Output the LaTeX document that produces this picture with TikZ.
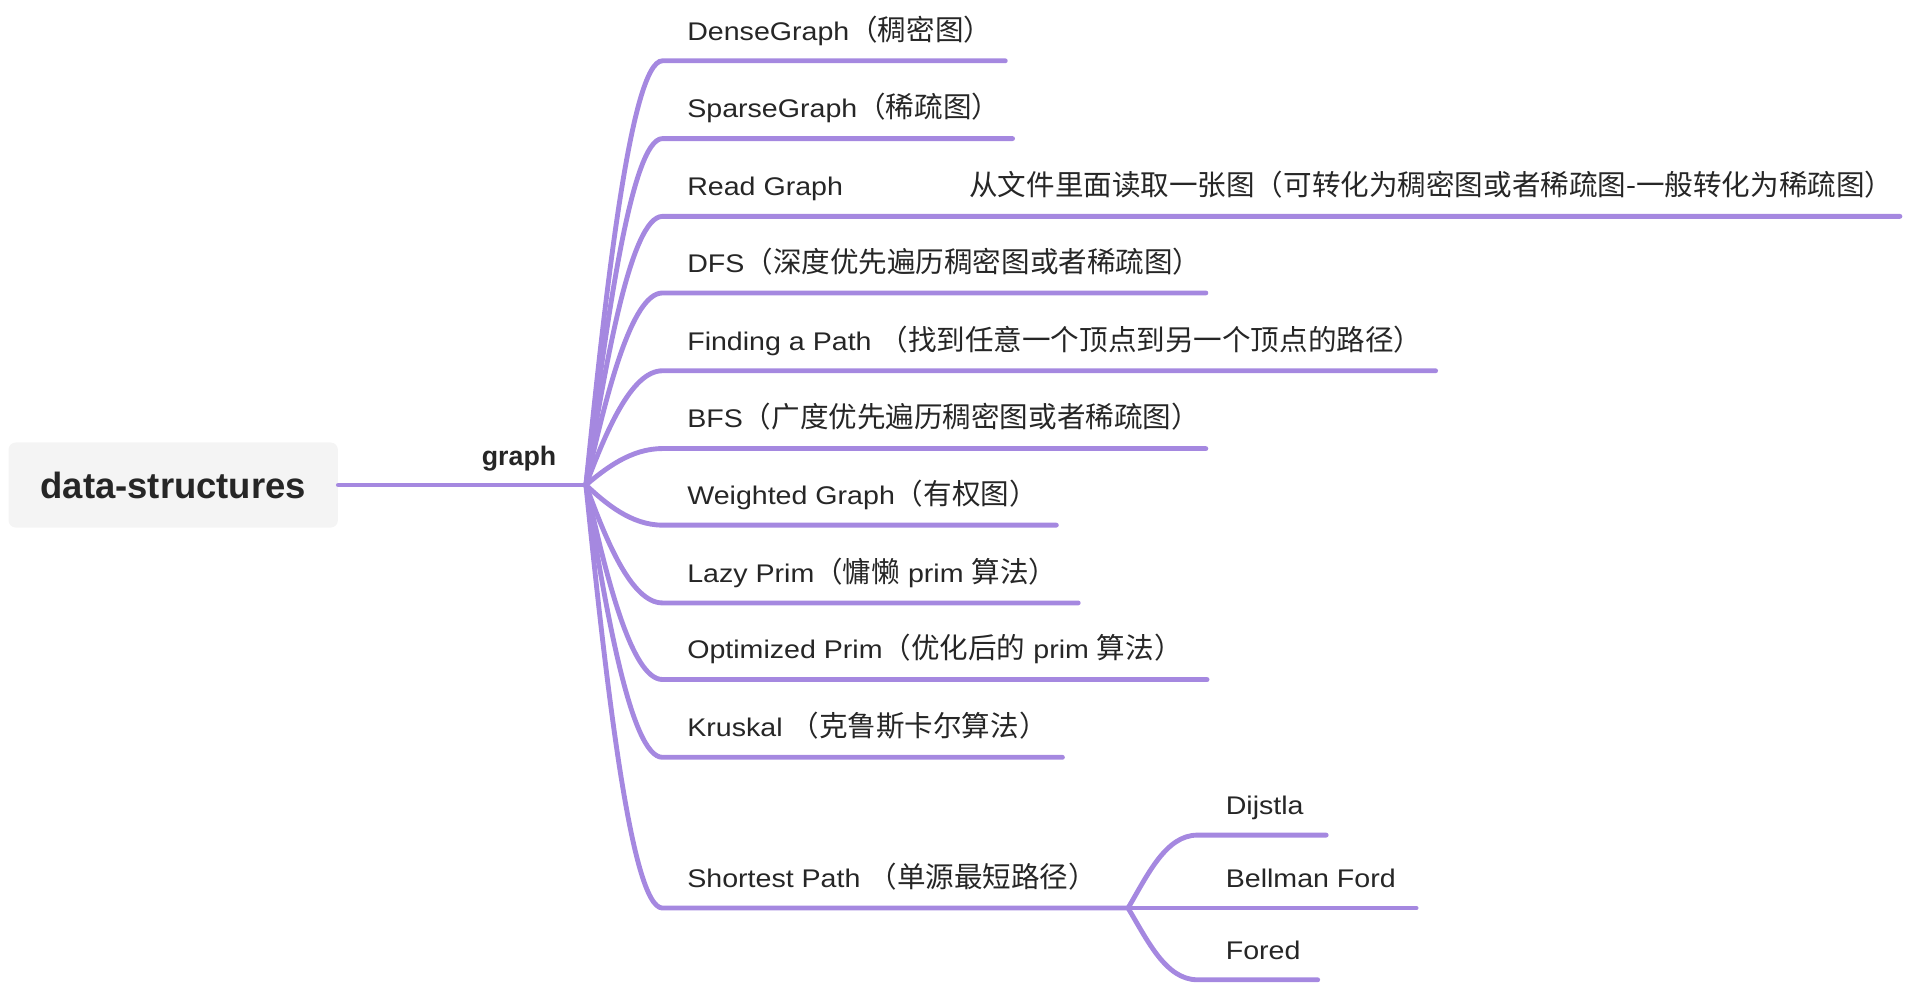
\documentclass[tikz,border=0pt]{standalone}
\usepackage{fontspec}
\setmainfont{Liberation Sans}
\newfontfamily\itemfont[FakeStretch=1.12]{Liberation Sans}
\newfontfamily\zhfont{Noto Sans CJK SC}
\newcommand\zh[1]{{\zhfont\fontsize{11.75}{14}\selectfont #1}}
\usetikzlibrary{calc}
\definecolor{branch}{RGB}{165,136,224}
\definecolor{ink}{RGB}{38,38,38}
\definecolor{rootfill}{RGB}{244,244,244}
\tikzset{
  rootbox/.style={fill=rootfill, rounded corners=3pt, minimum width=135.5pt,
    minimum height=35pt, inner sep=0pt, text=ink,
    font=\bfseries\fontsize{15}{18}\selectfont},
  topic/.style={anchor=base west, inner sep=0pt, text=ink,
    font=\itemfont\fontsize{10.5}{13}\selectfont},
  fork/.style={to path={.. controls ($(\tikztostart)!.45!(\tikztostart|-\tikztotarget)+(16,0)$)
    and ($(\tikztotarget)+(-26,0)$) .. (\tikztotarget)}},
}
\begin{document}
\begin{tikzpicture}[x=0.5pt, y=-0.5pt]
      \useasboundingbox (0,0) rectangle (1568,811);
      \node[rootbox] (root) at (142.5,399) {data-structures};
      \node[text=ink, anchor=base, font=\bfseries\fontsize{11}{13}\selectfont] (graph) at (427,383) {graph};
      \coordinate (gb) at (482,399);
      % first level
      \draw
        (565,33) node[topic] (dense) {DenseGraph\zh{（稠密图）}}
        (565,97) node[topic] (sparse) {SparseGraph\zh{（稀疏图）}}
        (565,161) node[topic] (readg) {Read Graph}
        (797,161) node[topic] (readnote) {\zh{从文件里面读取一张图（可转化为稠密图或者稀疏图-一般转化为稀疏图）}}
        (565,224) node[topic] (dfs) {DFS\zh{（深度优先遍历稠密图或者稀疏图）}}
        (565,288) node[topic] (path) {Finding a Path \zh{（找到任意一个顶点到另一个顶点的路径）}}
        (565,352) node[topic] (bfs) {BFS\zh{（广度优先遍历稠密图或者稀疏图）}}
        (565,415) node[topic] (weighted) {Weighted Graph\zh{（有权图）}}
        (565,479) node[topic] (lazy) {Lazy Prim\zh{（慵懒} prim \zh{算法）}}
        (565,542) node[topic] (optprim) {Optimized Prim\zh{（优化后的} prim \zh{算法）}}
        (565,606) node[topic] (kruskal) {Kruskal \zh{（克鲁斯卡尔算法）}}
        (565,730) node[topic] (shortest) {Shortest Path \zh{（单源最短路径）}};
      % second level
      \draw
        (1008,670) node[topic] (dijstla) {Dijstla}
        (1008,730) node[topic] (bellman) {Bellman Ford}
        (1008,789) node[topic] (fored) {Fored};
      % underline ends
      \coordinate (dense-s) at (545,50);     \coordinate (dense-e) at (827,50);
      \coordinate (sparse-s) at (545,114);   \coordinate (sparse-e) at (833,114);
      \coordinate (readg-s) at (545,178);    \coordinate (readg-e) at (1563,178);
      \coordinate (dfs-s) at (545,241);      \coordinate (dfs-e) at (992,241);
      \coordinate (path-s) at (545,305);     \coordinate (path-e) at (1181,305);
      \coordinate (bfs-s) at (545,369);      \coordinate (bfs-e) at (992,369);
      \coordinate (weighted-s) at (545,432); \coordinate (weighted-e) at (869,432);
      \coordinate (lazy-s) at (545,496);     \coordinate (lazy-e) at (887,496);
      \coordinate (optprim-s) at (545,559);  \coordinate (optprim-e) at (993,559);
      \coordinate (kruskal-s) at (545,623);  \coordinate (kruskal-e) at (874,623);
      \coordinate (shortest-s) at (545,747); \coordinate (sb) at (928,747);
      \coordinate (dijstla-s) at (985,687);  \coordinate (dijstla-e) at (1091,687);
      \coordinate (bellman-e) at (1165,747);
      \coordinate (fored-s) at (985,806);    \coordinate (fored-e) at (1084,806);
      \begin{scope}[draw=branch, line width=2pt, line cap=round]
        \draw (root.east) -- (gb);
        \draw (gb) to[fork] (dense-s) -- (dense-e);
        \draw (gb) to[fork] (sparse-s) -- (sparse-e);
        \draw (gb) to[fork] (readg-s) -- (readg-e);
        \draw (gb) to[fork] (dfs-s) -- (dfs-e);
        \draw (gb) to[fork] (path-s) -- (path-e);
        \draw (gb) to[fork] (bfs-s) -- (bfs-e);
        \draw (gb) to[fork] (weighted-s) -- (weighted-e);
        \draw (gb) to[fork] (lazy-s) -- (lazy-e);
        \draw (gb) to[fork] (optprim-s) -- (optprim-e);
        \draw (gb) to[fork] (kruskal-s) -- (kruskal-e);
        \draw (gb) to[fork] (shortest-s) -- (sb);
        \draw (sb) to[fork] (dijstla-s) -- (dijstla-e);
        \draw (sb) -- (bellman-e);
        \draw (sb) to[fork] (fored-s) -- (fored-e);
      \end{scope}
    \end{tikzpicture}
\end{document}
